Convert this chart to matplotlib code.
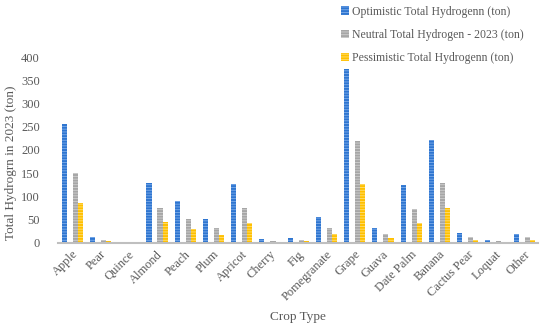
import numpy as np
import matplotlib
matplotlib.use('Agg')
import matplotlib.pyplot as plt

crops = ['Apple', 'Pear', 'Quince', 'Almond', 'Peach', 'Plum', 'Apricot', 'Cherry', 'Fig',
         'Pomegranate', 'Grape', 'Guava', 'Date Palm', 'Banana', 'Cactus Pear', 'Loquat', 'Other']
optimistic = [255, 12, 0, 129, 89, 52, 126, 8, 11, 55, 374, 32, 124, 221, 20, 6, 19]
neutral = [150, 6, 0, 75, 52, 31, 74, 4, 6, 32, 219, 18, 73, 129, 12, 3, 12]
pessimistic = [86, 3, 0, 44, 30, 17, 43, 2, 3, 18, 127, 11, 42, 75, 6, 1, 6]

labels = ['Optimistic Total Hydrogenn (ton)', 'Neutral Total Hydrogen - 2023 (ton)',
          'Pessimistic Total Hydrogenn (ton)']
colors = ['#2E75D0', '#A6A6A6', '#FFC000']
stripe = ['#7FAEEA', '#D0D0D0', '#FFE07A']

plt.rcParams['font.family'] = ['Liberation Serif', 'DejaVu Serif']
plt.rcParams['hatch.linewidth'] = 0.6
txt = '#595959'

fig = plt.figure(figsize=(5.5, 3.28), dpi=100)
ax = fig.add_axes([0.105, 0.26, 0.873, 0.566])

x = np.arange(len(crops))
w = 0.18
offsets = [-0.27, 0.12, 0.30]
handles = []
for vals, off, c, s, lab in zip([optimistic, neutral, pessimistic], offsets, colors, stripe, labels):
    b = ax.bar(x + off, vals, w, color=c, edgecolor=s, linewidth=0, hatch='------', label=lab)
    handles.append(b)

ax.set_xlim(-0.5, len(crops) - 0.5)
ax.set_ylim(0, 400)
ax.set_yticks(range(0, 401, 50))
ax.set_xticks(x)
ax.set_xticklabels(crops, rotation=45, ha='right', rotation_mode='anchor')
ax.tick_params(axis='both', length=0, labelsize=9, colors=txt)
ax.tick_params(axis='y', pad=13)
ax.tick_params(axis='x', pad=4)
for sp in ['top', 'right', 'left']:
    ax.spines[sp].set_visible(False)
ax.spines['bottom'].set_color('#BFBFBF')
ax.spines['bottom'].set_linewidth(1.5)

ax.set_ylabel('Total Hydrogrn in 2023 (ton)', fontsize=9.5, color=txt)
ax.yaxis.set_label_coords(-0.085, 0.43)
ax.set_xlabel('Crop Type', fontsize=9.5, color=txt, labelpad=6)

leg = fig.legend(handles=handles, loc='upper left', bbox_to_anchor=(0.6, 1.015), frameon=False,
                 fontsize=8.5, labelspacing=0.95, handlelength=0.7, handleheight=0.7,
                 handletextpad=0.3, labelcolor=txt)

fig.savefig('out.png', dpi=100)
